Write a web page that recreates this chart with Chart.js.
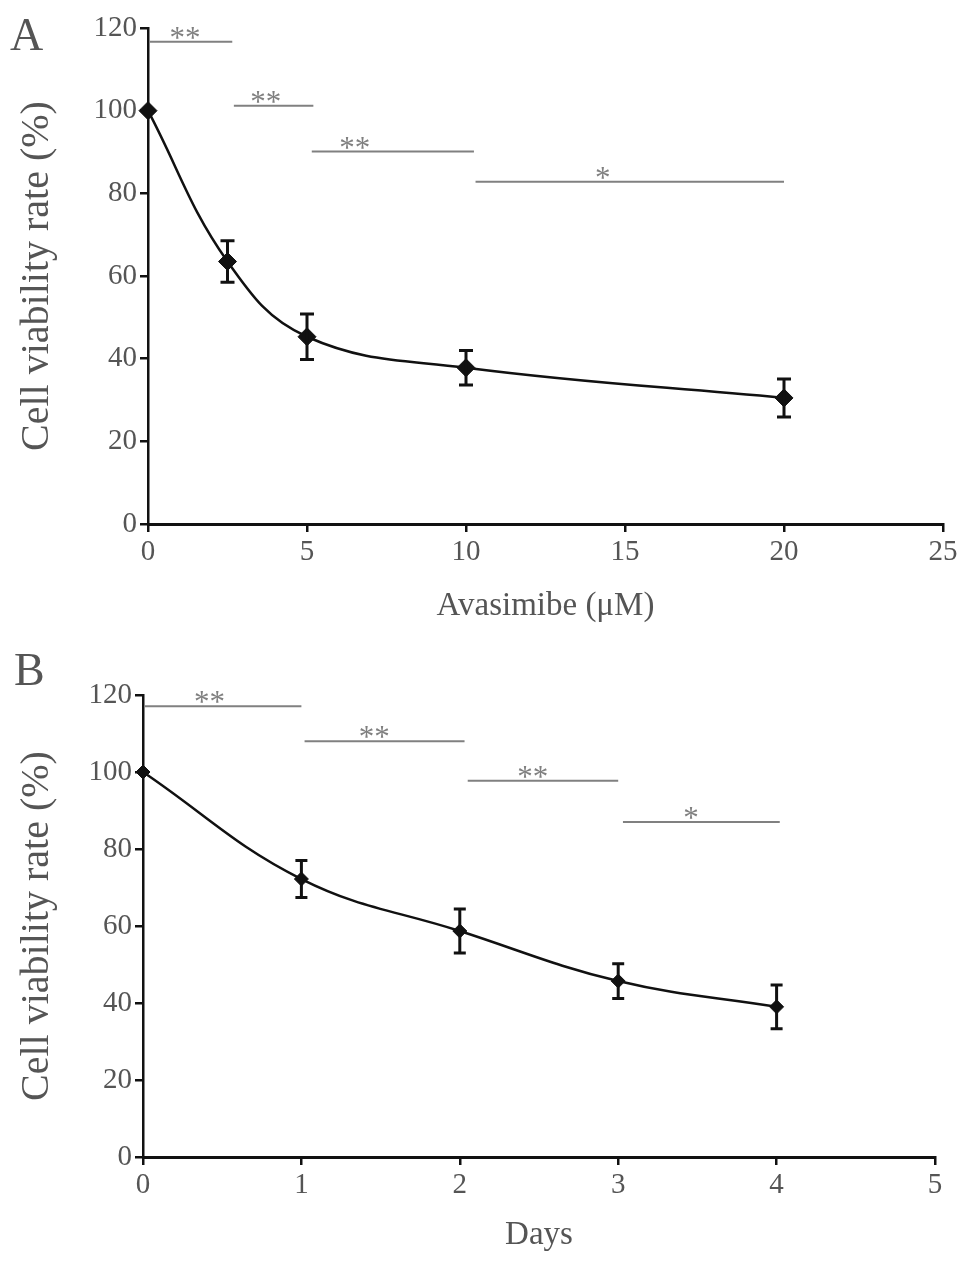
<!DOCTYPE html>
<html>
<head>
<meta charset="utf-8">
<script src="https://cdn.jsdelivr.net/npm/chart.js@4.4.1/dist/chart.umd.min.js"></script>
<style>
  html, body { margin: 0; padding: 0; background: #fff; }
  body { width: 969px; height: 1264px; position: relative; overflow: hidden; }
  .panel { position: absolute; left: 0; }
  #wrap-a { top: 0; }
  #wrap-b { top: 640px; }
</style>
</head>
<body>
<div class="panel" id="wrap-a"><canvas id="chart-a" width="969" height="630"></canvas></div>
<div class="panel" id="wrap-b"><canvas id="chart-b" width="969" height="619"></canvas></div>
<script>
/* ---------- panel A data : dose response ---------- */
const doseA = [0, 2.5, 5, 10, 20];
const viabilityA = [100, 63.5, 45.3, 37.8, 30.5];
const errorA = [0, 5, 5.5, 4.2, 4.6];
const xTicksA = [0, 5, 10, 15, 20, 25];
const sigStartA = [0.05, 2.7, 5.15, 10.3];
const sigEndA = [2.65, 5.2, 10.25, 20];
const sigLevelA = [116.7, 101.2, 90.1, 82.8];
const sigTextA = ['**', '**', '**', '*'];
const sigTextXA = [1.16, 3.7, 6.5, 14.3];

/* ---------- panel B data : time course ---------- */
const daysB = [0, 1, 2, 3, 4];
const viabilityB = [100, 72.2, 58.7, 45.7, 39];
const errorB = [0, 4.8, 5.7, 4.5, 5.7];
const xTicksB = [0, 1, 2, 3, 4, 5];
const sigStartB = [0.01, 1.02, 2.05, 3.03];
const sigEndB = [1, 2.03, 3, 4.02];
const sigLevelB = [117.1, 108, 97.7, 87];
const sigTextB = ['**', '**', '**', '*'];
const sigTextXB = [0.42, 1.46, 2.46, 3.46];

const yTicks = [0, 20, 40, 60, 80, 100, 120];

const SERIF = '"Liberation Serif", "DejaVu Serif", serif';
const INK = '#111';
const GREY_TEXT = '#555';
const GREY_LINE = '#808080';

// error bars, significance asterisks and the panel letter
const extrasPlugin = {
  id: 'extras',
  afterDatasetsDraw(chart, args, opts) {
    const ctx = chart.ctx;
    const xs = chart.scales.x, ys = chart.scales.y;
    ctx.save();
    // error bars
    ctx.strokeStyle = INK;
    ctx.lineWidth = 3;
    opts.xVals.forEach((xv, i) => {
      const e = opts.err[i];
      if (!e) return;
      const px = xs.getPixelForValue(xv);
      const top = ys.getPixelForValue(opts.yVals[i] + e);
      const bot = ys.getPixelForValue(opts.yVals[i] - e);
      ctx.beginPath();
      ctx.moveTo(px, top); ctx.lineTo(px, bot);
      ctx.moveTo(px - opts.cap, top); ctx.lineTo(px + opts.cap, top);
      ctx.moveTo(px - opts.cap, bot); ctx.lineTo(px + opts.cap, bot);
      ctx.stroke();
    });
    // asterisks
    ctx.fillStyle = GREY_LINE;
    ctx.font = '31px ' + SERIF;
    ctx.textAlign = 'center';
    ctx.textBaseline = 'alphabetic';
    opts.sigText.forEach((t, i) => {
      ctx.fillText(t, xs.getPixelForValue(opts.sigX[i]), ys.getPixelForValue(opts.sigY[i]) + 6);
    });
    // panel letter
    ctx.fillStyle = GREY_TEXT;
    ctx.font = '46px ' + SERIF;
    ctx.textAlign = 'left';
    ctx.fillText(opts.letter, opts.letterX, opts.letterY);
    ctx.restore();
  }
};

function makePanel(id, cfg) {
  const sigSets = cfg.sigStart.map((s, i) => ({
    data: [{ x: s, y: cfg.sigLevel[i] }, { x: cfg.sigEnd[i], y: cfg.sigLevel[i] }],
    borderColor: GREY_LINE,
    borderWidth: 2,
    pointRadius: 0,
    tension: 0
  }));
  return new Chart(document.getElementById(id), {
    type: 'line',
    data: {
      datasets: [
        ...sigSets,
        {
          data: cfg.xVals.map((x, i) => ({ x: x, y: cfg.yVals[i] })),
          borderColor: INK,
          borderWidth: 2.5,
          tension: 0.4,
          clip: false,
          pointStyle: 'rectRot',
          pointRadius: cfg.marker,
          pointBackgroundColor: INK,
          pointBorderColor: INK,
          pointBorderWidth: 1
        }
      ]
    },
    options: {
      responsive: false,
      animation: false,
      layout: { padding: { top: cfg.padTop, right: cfg.padRight, left: 0, bottom: 0 } },
      plugins: {
        legend: { display: false },
        tooltip: { enabled: false },
        extras: {
          xVals: cfg.xVals, yVals: cfg.yVals, err: cfg.err, cap: cfg.cap,
          sigText: cfg.sigText, sigX: cfg.sigX, sigY: cfg.sigLevel,
          letter: cfg.letter, letterX: cfg.letterX, letterY: cfg.letterY
        }
      },
      scales: {
        x: {
          type: 'linear',
          min: cfg.xTicks[0],
          max: cfg.xTicks[cfg.xTicks.length - 1],
          afterBuildTicks: s => { s.ticks = cfg.xTicks.map(v => ({ value: v })); },
          afterFit: s => { s.height = cfg.xHeight; },
          border: { color: INK, width: 3 },
          grid: { drawOnChartArea: false, color: INK, lineWidth: 2.5, tickLength: 8 },
          ticks: { color: GREY_TEXT, padding: 3, font: { family: SERIF, size: 29 } },
          title: {
            display: true, text: cfg.xTitle, color: GREY_TEXT,
            padding: { top: 4, bottom: 4 }, font: { family: SERIF, size: 33 }
          }
        },
        y: {
          min: 0,
          max: 120,
          afterBuildTicks: s => { s.ticks = yTicks.map(v => ({ value: v })); },
          afterFit: s => { s.width = cfg.yWidth; },
          border: { color: INK, width: 2.5 },
          grid: { drawOnChartArea: false, color: INK, lineWidth: 2.5, tickLength: 8 },
          ticks: { color: GREY_TEXT, padding: 3, font: { family: SERIF, size: 29 } },
          title: {
            display: true, text: 'Cell viability rate (%)', color: GREY_TEXT,
            padding: { top: 13, bottom: 0 }, font: { family: SERIF, size: 40 }
          }
        }
      }
    },
    plugins: [extrasPlugin]
  });
}

makePanel('chart-a', {
  xVals: doseA, yVals: viabilityA, err: errorA, xTicks: xTicksA,
  sigStart: sigStartA, sigEnd: sigEndA, sigLevel: sigLevelA, sigText: sigTextA, sigX: sigTextXA,
  xTitle: 'Avasimibe (\u03bcM)', letter: 'A', letterX: 10, letterY: 50,
  marker: 9, cap: 7, padTop: 28, padRight: 26, yWidth: 148, xHeight: 106
});

makePanel('chart-b', {
  xVals: daysB, yVals: viabilityB, err: errorB, xTicks: xTicksB,
  sigStart: sigStartB, sigEnd: sigEndB, sigLevel: sigLevelB, sigText: sigTextB, sigX: sigTextXB,
  xTitle: 'Days', letter: 'B', letterX: 14, letterY: 45,
  marker: 7, cap: 6, padTop: 55, padRight: 34, yWidth: 143, xHeight: 102
});
</script>
</body>
</html>
